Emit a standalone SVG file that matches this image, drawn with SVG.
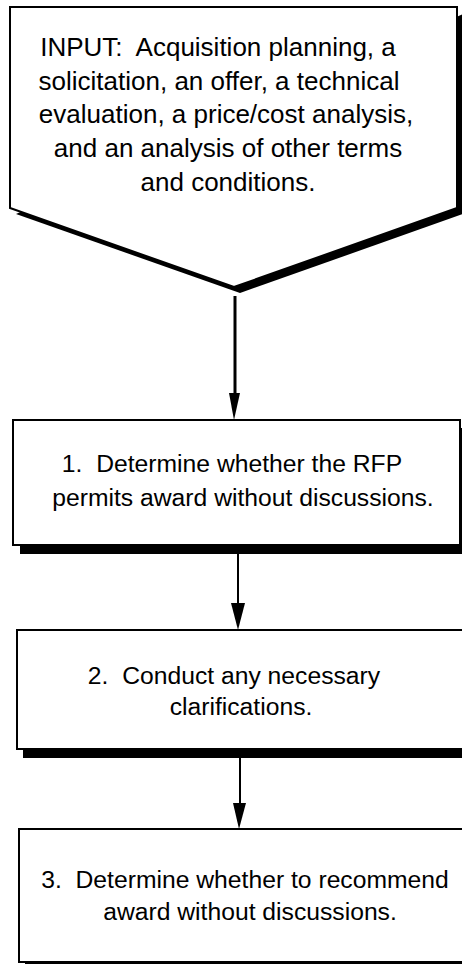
<svg xmlns="http://www.w3.org/2000/svg" width="462" height="964" viewBox="0 0 462 964">
<style>
.shape{fill:#fff;stroke:#000;stroke-width:2}
.shadow{fill:#000;stroke:none}
.t{font-family:"Liberation Sans",Arial,sans-serif;font-size:24.7px;fill:#000;text-anchor:middle;white-space:pre}
.tp{font-size:26px}
.conn{stroke:#000;fill:none}
.head{fill:#000;stroke:none}
</style>
<rect width="462" height="964" fill="#fff"/>
<g id="input">
<polygon class="shadow" points="16,214 463,14 463,214 240,293 16,214"/>
<polygon class="shape" points="10,7 457,7 457,208 234,287 10,208"/>
<text class="t tp" xml:space="preserve"><tspan x="218" y="56">INPUT:  Acquisition planning, a</tspan><tspan x="219" y="90">solicitation, an offer, a technical</tspan><tspan x="226" y="123">evaluation, a price/cost analysis,</tspan><tspan x="228" y="157">and an analysis of other terms</tspan><tspan x="228" y="191">and conditions.</tspan></text>
</g>
<g id="step1">
<rect class="shadow" x="20" y="428" width="450" height="126"/>
<rect class="shape" x="13" y="420" width="447" height="125"/>
<text class="t" xml:space="preserve"><tspan x="232" y="472">1.  Determine whether the RFP</tspan><tspan x="243" y="506">permits award without discussions.</tspan></text>
</g>
<g id="step2">
<rect class="shadow" x="23" y="638" width="450" height="120"/>
<rect class="shape" x="17" y="630" width="450" height="119"/>
<text class="t" xml:space="preserve"><tspan x="234" y="684">2.  Conduct any necessary</tspan><tspan x="241" y="715">clarifications.</tspan></text>
</g>
<g id="step3">
<rect class="shadow" x="25" y="837" width="450" height="140"/>
<rect class="shape" x="19" y="829" width="450" height="133"/>
<text class="t" xml:space="preserve"><tspan x="245" y="888">3.  Determine whether to recommend</tspan><tspan x="250" y="920">award without discussions.</tspan></text>
</g>
<g id="connectors">
<line class="conn" x1="235" y1="296" x2="235" y2="396" stroke-width="3"/>
<polygon class="head" points="229,393 240,393 234,420"/>
<line class="conn" x1="238" y1="554" x2="238" y2="606" stroke-width="2"/>
<polygon class="head" points="231,603 245,603 238,630"/>
<line class="conn" x1="240" y1="758" x2="240" y2="806" stroke-width="2"/>
<polygon class="head" points="233,803 246,803 239,829"/>
</g>
</svg>
